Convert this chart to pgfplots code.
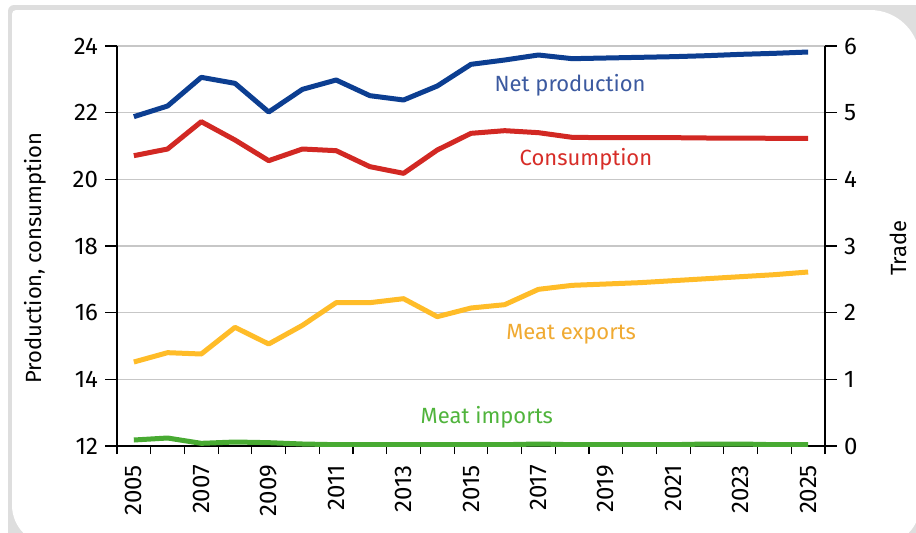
\documentclass[border=0pt]{standalone}
\usepackage{fontspec}
\setmainfont{Fira Sans}
\usepackage{pgfplots}
\pgfplotsset{compat=1.18}
\definecolor{navyline}{RGB}{12,62,145}
\definecolor{redline}{RGB}{210,40,35}
\definecolor{yelline}{RGB}{255,188,40}
\definecolor{grnline}{RGB}{72,170,50}
\definecolor{navytxt}{RGB}{60,90,160}
\definecolor{redtxt}{RGB}{215,45,40}
\definecolor{yeltxt}{RGB}{240,170,50}
\definecolor{grntxt}{RGB}{80,180,60}
\begin{document}
\begin{tikzpicture}
\useasboundingbox (0,0) rectangle (458pt,266pt);
\begin{scope}
\clip (0,0) rectangle (458pt,266pt);
\fill[black!13, rounded corners=3pt] (4pt,-20pt) rectangle (475pt,263.5pt);
\fill[white] (6pt,120pt) [rounded corners=2pt] -- (6pt,261pt) [rounded corners=25pt] -- (460pt,261pt) [rounded corners=20pt] -- (460pt,-6.5pt) -- (6pt,-6.5pt) -- cycle;
\end{scope}
\pgfplotsset{
  common/.style={
    at={(58.5pt,43pt)}, anchor=south west,
    width=354pt, height=200pt, scale only axis,
    xmin=2004.5, xmax=2025.5,
    tick align=outside,
    axis line style={black, line width=0.6pt},
    every tick/.style={black, line width=0.6pt},
    major tick length=6pt,
    minor tick length=4pt,
    /pgf/number format/assume math mode=true,
    tick label style={font=\fontsize{12}{12}\selectfont},
    label style={font=\fontsize{11}{11}\selectfont},
  }
}
\begin{axis}[common,
  ymin=12, ymax=24,
  axis x line*=bottom, axis y line*=left,
  ytick={12,14,...,24},
  xtick={2005,2007,...,2025},
  minor xtick={2004.5,2005.5,...,2025.5},
  major x tick style={draw=none},
  xticklabel style={rotate=90, anchor=east, /pgf/number format/1000 sep=},
  ymajorgrids, major grid style={black!22, line width=0.6pt},
  ylabel={Production, consumption},
  ylabel style={at={(axis description cs:-0.116,0.47)}, anchor=center},
]
\addplot[navyline, line width=2.5pt, line join=round] coordinates {
(2005,21.88)(2006,22.2)(2007,23.06)(2008,22.88)(2009,22.02)(2010,22.7)(2011,22.98)(2012,22.51)(2013,22.38)(2014,22.8)(2015,23.45)(2016,23.58)(2017,23.73)(2018,23.62)(2019,23.64)(2020,23.66)(2021,23.68)(2022,23.71)(2023,23.75)(2024,23.78)(2025,23.82)};
\addplot[redline, line width=2.5pt, line join=round] coordinates {
(2005,20.71)(2006,20.91)(2007,21.73)(2008,21.18)(2009,20.56)(2010,20.91)(2011,20.86)(2012,20.38)(2013,20.18)(2014,20.88)(2015,21.38)(2016,21.46)(2017,21.4)(2018,21.26)(2019,21.25)(2020,21.25)(2021,21.25)(2022,21.24)(2023,21.24)(2024,21.23)(2025,21.23)};
\node[navytxt, font=\fontsize{11}{11}\selectfont] at (axis cs:2017.94,22.83) {Net production};
\node[redtxt, font=\fontsize{11}{11}\selectfont] at (axis cs:2018.41,20.61) {Consumption};
\node[yeltxt, font=\fontsize{11}{11}\selectfont] at (axis cs:2017.97,15.36) {Meat exports};
\node[grntxt, font=\fontsize{11}{11}\selectfont] at (axis cs:2015.47,12.87) {Meat imports};
\end{axis}
\begin{axis}[common,
  ymin=0, ymax=6,
  axis x line=none, axis y line*=right,
  ytick={0,1,...,6},
  ylabel={Trade},
  ylabel style={at={(axis description cs:1.103,0.495)}, anchor=center},
]
\addplot[yelline, line width=2.5pt, line join=round] coordinates {
(2005,1.26)(2006,1.40)(2007,1.38)(2008,1.78)(2009,1.53)(2010,1.81)(2011,2.15)(2012,2.15)(2013,2.21)(2014,1.94)(2015,2.07)(2016,2.12)(2017,2.35)(2018,2.41)(2019,2.43)(2020,2.45)(2021,2.48)(2022,2.51)(2023,2.54)(2024,2.57)(2025,2.61)};
\addplot[grnline, line width=2.5pt, line join=round] coordinates {
(2005,0.09)(2006,0.12)(2007,0.04)(2008,0.06)(2009,0.05)(2010,0.03)(2011,0.02)(2012,0.02)(2013,0.02)(2014,0.02)(2015,0.02)(2016,0.02)(2017,0.03)(2018,0.02)(2019,0.02)(2020,0.02)(2021,0.02)(2022,0.03)(2023,0.03)(2024,0.02)(2025,0.02)};
\end{axis}
\end{tikzpicture}
\end{document}
